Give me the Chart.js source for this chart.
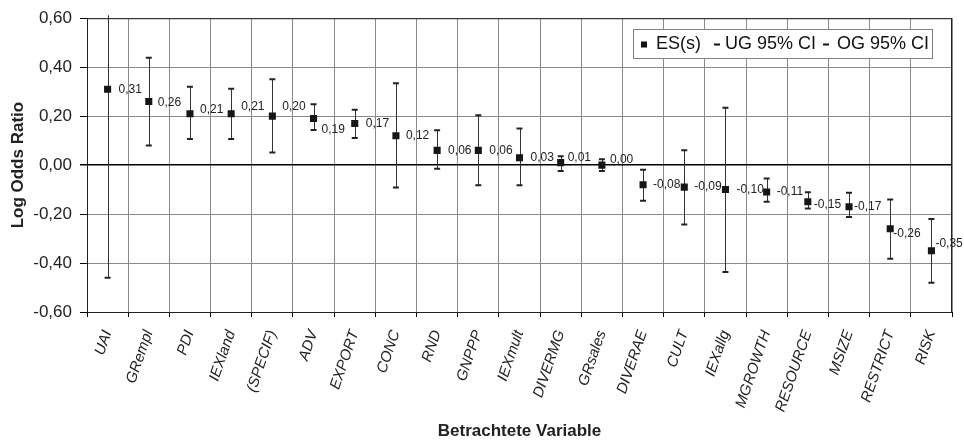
<!DOCTYPE html>
<html>
<head>
<meta charset="utf-8">
<script src="https://cdn.jsdelivr.net/npm/chart.js@4/dist/chart.umd.min.js"></script>
<style>
  html, body { margin: 0; padding: 0; background: #fff; }
  #wrap { width: 964px; height: 442px; }
</style>
</head>
<body>
<div id="wrap"><canvas id="c" width="964" height="442"></canvas></div>
<script>
const VARIABLES = ['UAI', 'GRempl', 'PDI', 'IEXland', '(SPECIF)', 'ADV', 'EXPORT', 'CONC', 'RND', 'GNPPP',
    'IEXmult', 'DIVERMG', 'GRsales', 'DIVERAE', 'CULT', 'IEXallg', 'MGROWTH', 'RESOURCE', 'MSIZE', 'RESTRICT', 'RISK'];
const ES = [0.31, 0.26, 0.21, 0.21, 0.20, 0.19, 0.17, 0.12, 0.06, 0.06,
    0.03, 0.01, 0.00, -0.08, -0.09, -0.10, -0.11, -0.15, -0.17, -0.26, -0.35];
const UG = [-0.46, 0.08, 0.107, 0.107, 0.051, 0.143, 0.111, -0.092, -0.015, -0.082,
    -0.082, -0.024, -0.024, -0.146, -0.243, -0.437, -0.150, -0.177, -0.212, -0.382, -0.481];
const OG = [1.08, 0.438, 0.320, 0.312, 0.351, 0.249, 0.226, 0.334, 0.142, 0.204,
    0.150, 0.036, 0.024, -0.019, 0.061, 0.234, -0.055, -0.111, -0.113, -0.141, -0.220];
const Y_MIN = -0.6, Y_MAX = 0.6, Y_STEP = 0.2;

const FONT = "'Liberation Sans', Arial, sans-serif";
const GRID = '#8a8a8a';
const fmt = v => (Math.abs(v) < 1e-9 ? 0 : v).toFixed(2).replace('.', ',');

// where Excel pushed each value label, relative to its marker (px)
const LABEL_SHIFT = [[11, 0], [9, 1], [10, -4], [10, -7], [10, -9], [8, 11], [11, 0], [10, 0], [11, 0], [11, 0],
    [11, 0], [7, -5], [8, -5], [10, 0], [10, 0], [11, 0], [10, 0], [6, 3], [5, 0], [3, 5], [4, -7]];

const highLow = {
    id: 'highLow',
    beforeDatasetsDraw(chart) {
        const { ctx, chartArea: a, scales: { x, y } } = chart;
        ctx.save();
        ctx.beginPath();
        ctx.rect(a.left, a.top - 3, a.right - a.left, a.bottom - a.top + 3);
        ctx.clip();
        ctx.strokeStyle = '#333';
        ctx.lineWidth = 1;
        VARIABLES.forEach((_, i) => {
            const px = Math.round(x.getPixelForValue(i)) + 0.5;
            ctx.beginPath();
            ctx.moveTo(px, y.getPixelForValue(UG[i]));
            ctx.lineTo(px, y.getPixelForValue(OG[i]));
            ctx.stroke();
        });
        ctx.restore();
    },
    afterDraw(chart) {
        const { ctx, chartArea: a, scales: { x, y } } = chart;
        ctx.save();
        // frame
        ctx.strokeStyle = '#222';
        ctx.lineWidth = 1;
        ctx.strokeRect(a.left + 0.5, a.top + 0.5, a.right - a.left - 1, a.bottom - a.top);

        // value labels
        ctx.font = `12px ${FONT}`;
        ctx.fillStyle = '#222';
        ctx.textBaseline = 'middle';
        ctx.textAlign = 'left';
        ES.forEach((v, i) => {
            const [dx, dy] = LABEL_SHIFT[i];
            ctx.fillText(fmt(v), x.getPixelForValue(i) + dx, y.getPixelForValue(v) + dy);
        });

        // legend
        const lx = 633, ly = 29, lw = 299, lh = 29;
        ctx.fillStyle = '#fff';
        ctx.fillRect(lx, ly, lw, lh);
        ctx.strokeStyle = '#808080';
        ctx.strokeRect(lx + 0.5, ly + 0.5, lw, lh);
        const cy = ly + lh / 2 + 1;
        ctx.font = `18px ${FONT}`;
        ctx.fillStyle = '#111';
        ctx.fillRect(641, cy - 3, 6, 6);
        ctx.fillText(chart.data.datasets[0].label, 656, cy);
        ctx.fillRect(714, cy - 1, 6, 2);
        ctx.fillText(chart.data.datasets[1].label, 725, cy);
        ctx.fillRect(823, cy - 1, 6, 2);
        ctx.fillText(chart.data.datasets[2].label, 837, cy);
        ctx.restore();
    }
};

new Chart(document.getElementById('c'), {
    type: 'line',
    data: {
        labels: VARIABLES,
        datasets: [
            { label: 'ES(s)', data: ES, showLine: false, pointStyle: 'rect', pointRadius: 5,
              backgroundColor: '#161616', borderWidth: 0, order: 0 },
            { label: 'UG 95% CI', data: UG, showLine: false, pointStyle: 'line', pointRadius: 3,
              borderColor: '#222', borderWidth: 2, order: 1 },
            { label: 'OG 95% CI', data: OG, showLine: false, pointStyle: 'line', pointRadius: 3,
              borderColor: '#222', borderWidth: 2, order: 1 },
        ],
    },
    options: {
        responsive: false,
        animation: false,
        events: [],
        layout: { padding: { left: 0, right: 12, top: 16, bottom: 0 } },
        plugins: { legend: { display: false }, tooltip: { enabled: false } },
        scales: {
            x: {
                offset: true,
                afterFit: s => { s.height = 130; },
                grid: { offset: true, color: GRID, lineWidth: 1, tickLength: 5, tickColor: '#000' },
                border: { color: '#000', width: 1 },
                ticks: { minRotation: 71, maxRotation: 71, autoSkip: false, padding: 11,
                         color: '#222', font: { family: FONT, size: 15, style: 'italic' } },
                title: { display: true, text: 'Betrachtete Variable', color: '#222',
                         font: { family: FONT, size: 17, weight: 'bold' }, padding: { top: 0, bottom: 0 } },
            },
            y: {
                min: Y_MIN, max: Y_MAX,
                afterFit: s => { s.width = 87; },
                grid: {
                    color: c => (Math.abs(c.tick.value) < 1e-9 ? '#000' : GRID),
                    lineWidth: c => (Math.abs(c.tick.value) < 1e-9 ? 1.5 : 1),
                    tickLength: 7, tickColor: '#000',
                },
                border: { color: '#000', width: 1 },
                ticks: { stepSize: Y_STEP, padding: 8, color: '#222',
                         font: { family: FONT, size: 17 }, callback: v => fmt(v) },
                title: { display: true, text: 'Log Odds Ratio', color: '#222',
                         font: { family: FONT, size: 17, weight: 'bold' }, padding: { top: 8, bottom: 0 } },
            },
        },
    },
    plugins: [highLow],
});
</script>
</body>
</html>
